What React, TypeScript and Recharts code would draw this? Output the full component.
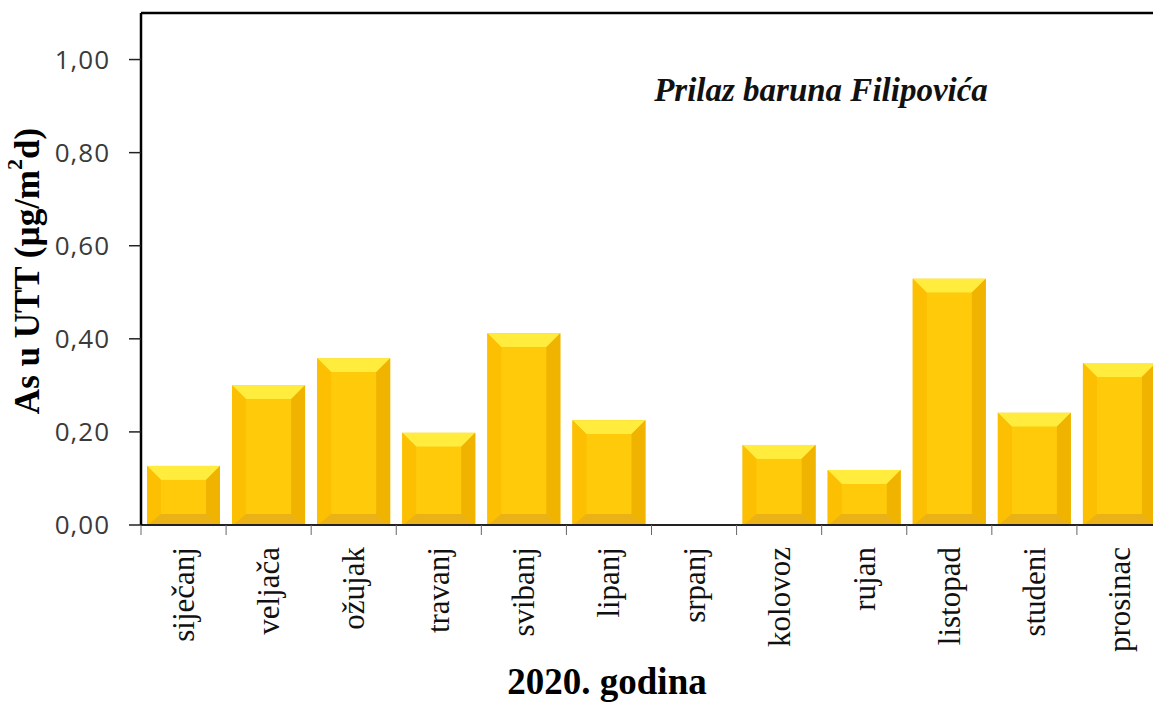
import React from 'react';
import { BarChart, Bar, XAxis, YAxis, ReferenceLine } from 'recharts';

const MONTHS = ['siječanj', 'veljača', 'ožujak', 'travanj', 'svibanj', 'lipanj', 'srpanj', 'kolovoz', 'rujan', 'listopad', 'studeni', 'prosinac'];
const VALUES = [0.127, 0.3, 0.358, 0.198, 0.412, 0.225, 0, 0.172, 0.118, 0.529, 0.241, 0.348];
const Y_TICKS = [0, 0.2, 0.4, 0.6, 0.8, 1.0];
const Y_MAX = 1.1;
const TITLE = 'Prilaz baruna Filipovića';
const X_TITLE = '2020. godina';

const data = MONTHS.map((m, i) => ({ month: m, value: VALUES[i] }));

const CHART_W = 1175;
const CHART_H = 705;
const MARGIN = { top: 13, right: 13, bottom: 0, left: 0 };
const Y_AXIS_W = 141;
const X_AXIS_H = 180;
const BAND = (CHART_W - MARGIN.left - MARGIN.right - Y_AXIS_W) / MONTHS.length;

const SERIF = '"Liberation Serif", "Times New Roman", serif';
const SANS = '"Open Sans", "Noto Sans", sans-serif';

const BevelBar = (props: any) => {
  const { x, y, width, height } = props;
  if (!height || height <= 0) return null;
  const t = Math.min(14, height / 3);
  const b = Math.min(12, height / 3);
  const s = 14;
  const x2 = x + width;
  const y2 = y + height + 1;
  return (
    <g>
      <rect x={x} y={y} width={width} height={y2 - y} fill="#F7BB00" />
      <polygon points={`${x},${y} ${x2},${y} ${x2 - s},${y + t} ${x + s},${y + t}`} fill="#FFEC3C" />
      <polygon points={`${x},${y} ${x + s},${y + t} ${x + s},${y2 - b} ${x},${y2}`} fill="#FDBF02" />
      <polygon points={`${x2},${y} ${x2},${y2} ${x2 - s},${y2 - b} ${x2 - s},${y + t}`} fill="#EFB300" />
      <polygon points={`${x},${y2} ${x + s},${y2 - b} ${x2 - s},${y2 - b} ${x2},${y2}`} fill="#EAB217" />
      <rect x={x + s} y={y + t} width={width - 2 * s} height={y2 - y - t - b} fill="#FFCA0A" />
    </g>
  );
};

const XTick = (props: any) => {
  const { x, payload } = props;
  const half = payload && typeof payload.offset === 'number' && payload.offset > 0 ? payload.offset : BAND / 2;
  const lx = x - half;
  const axisY = 525;
  const ty = axisY + 22;
  return (
    <g>
      <line x1={lx} y1={axisY} x2={lx} y2={axisY + 10} stroke="#666" strokeWidth={1} />
      <text
        x={x}
        y={ty}
        dy="0.34em"
        transform={`rotate(-90, ${x}, ${ty})`}
        textAnchor="end"
        fontFamily={SERIF}
        fontSize={31}
        fill="#111"
      >
        {payload.value}
      </text>
    </g>
  );
};

const YLabel = () => (
  <text
    x={27}
    y={271}
    transform="rotate(-90, 27, 271)"
    textAnchor="middle"
    dominantBaseline="central"
    fontFamily={SERIF}
    fontWeight="bold"
    fontSize={35}
    fill="#000"
  >
    As u UTT (µg/m<tspan fontSize={22} dy={-13}>2</tspan><tspan dy={13}>d)</tspan>
  </text>
);

const XLabel = () => (
  <text
    x={607}
    y={694}
    textAnchor="middle"
    fontFamily={SERIF}
    fontWeight="bold"
    fontSize={37}
    fill="#000"
  >
    {X_TITLE}
  </text>
);

export default function App() {
  return (
    <div
      style={{
        position: 'fixed',
        left: 0,
        top: 0,
        width: 1153,
        height: 705,
        overflow: 'hidden',
        background: '#fff',
      }}
    >
      <BarChart width={CHART_W} height={CHART_H} data={data} margin={MARGIN} barSize={73}>
        <XAxis
          dataKey="month"
          height={X_AXIS_H}
          interval={0}
          tickLine={false}
          axisLine={{ stroke: '#222', strokeWidth: 2 }}
          tick={<XTick />}
          label={<XLabel />}
        />
        <YAxis
          width={Y_AXIS_W}
          domain={[0, Y_MAX]}
          ticks={Y_TICKS}
          allowDataOverflow
          tickSize={12}
          tickMargin={19}
          tickLine={{ stroke: '#222', strokeWidth: 1.5 }}
          axisLine={{ stroke: '#000', strokeWidth: 2.5 }}
          tickFormatter={(v: number) => v.toFixed(2).replace('.', ',')}
          tick={{ fontFamily: SANS, fontSize: 26, fill: '#3a3a3a', letterSpacing: 1 }}
          label={<YLabel />}
        />
        <ReferenceLine y={Y_MAX} stroke="#000" strokeWidth={2.5} />
        <Bar dataKey="value" isAnimationActive={false} shape={<BevelBar />} />
      </BarChart>
      <div
        style={{
          position: 'absolute',
          left: 821,
          top: 70,
          transform: 'translateX(-50%)',
          whiteSpace: 'nowrap',
          fontFamily: SERIF,
          fontWeight: 'bold',
          fontStyle: 'italic',
          fontSize: 33,
          lineHeight: '40px',
          color: '#111',
        }}
      >
        {TITLE}
      </div>
    </div>
  );
}
